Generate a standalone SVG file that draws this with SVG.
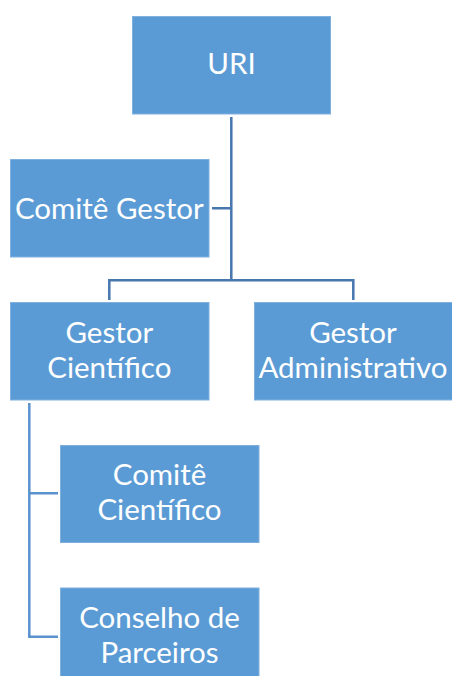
<svg xmlns="http://www.w3.org/2000/svg" width="452" height="676" viewBox="0 0 452 676">
<style>
.box{fill:#5B9BD5;stroke:#7FB0DE;stroke-width:1}
.t{font-family:Lato,"Open Sans",sans-serif;font-size:29.5px;fill:#FFFFFF;text-anchor:middle}
.c1{fill:none;stroke:#4677AE;stroke-width:2.5}
.c2{fill:none;stroke:#5A92CE;stroke-width:2.5}
</style>
<rect width="452" height="676" fill="#FFFFFF"/>
<g id="connectors">
<path class="c1" d="M231.3 117 V280.5 M212 208.3 H231.3 M109.3 300 V280.3 H353.3 V300"/>
<path class="c2" d="M29.3 403 V636.7 H58 M29.3 493.3 H58"/>
</g>
<g id="uri"><rect class="box" x="132.5" y="16.5" width="198" height="97.5"/><text class="t" x="231.5" y="74">URI</text></g>
<g id="comite-gestor"><rect class="box" x="10.5" y="159.5" width="198.5" height="97.5"/><text class="t" x="109.3" y="219">Comitê Gestor</text></g>
<g id="gestor-cientifico"><rect class="box" x="10.5" y="302.5" width="198.5" height="97.5"/><text class="t" x="109.3" y="343">Gestor</text><text class="t" x="109.3" y="378">Científico</text></g>
<g id="gestor-administrativo"><rect class="box" x="254.5" y="302.5" width="198" height="97.5"/><text class="t" x="353" y="343">Gestor</text><text class="t" x="353" y="378">Administrativo</text></g>
<g id="comite-cientifico"><rect class="box" x="60.5" y="445.5" width="198.5" height="97"/><text class="t" x="159.5" y="485">Comitê</text><text class="t" x="159.5" y="520">Científico</text></g>
<g id="conselho-parceiros"><rect class="box" x="60.5" y="588" width="198.5" height="100"/><text class="t" x="159.5" y="627.5">Conselho de</text><text class="t" x="159.5" y="663">Parceiros</text></g>
</svg>
